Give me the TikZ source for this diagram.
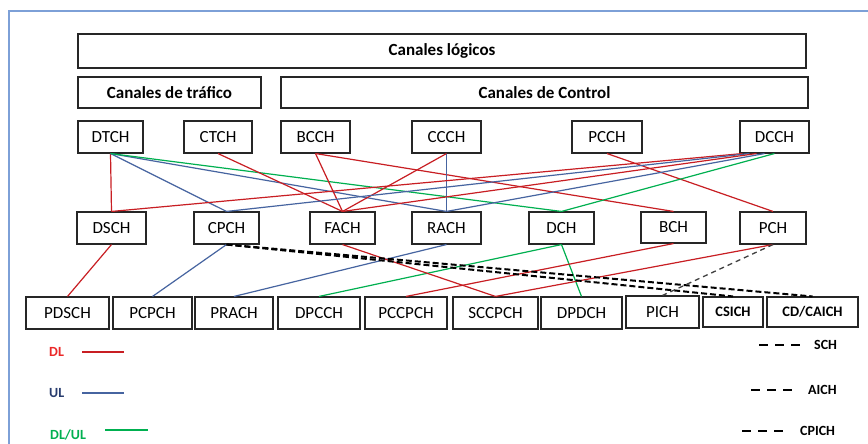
\documentclass[tikz,border=0pt]{standalone}
\usepackage{fontspec}
\setmainfont{Carlito}
\usetikzlibrary{calc}
\definecolor{dlred}{RGB}{200,30,35}
\definecolor{dltext}{RGB}{235,40,40}
\definecolor{ulblue}{RGB}{70,100,160}
\definecolor{ultext}{RGB}{40,60,110}
\definecolor{bothgreen}{RGB}{0,176,80}
\definecolor{framecol}{RGB}{125,160,215}
\begin{document}
\begin{tikzpicture}[x=1bp,y=-1bp,
  chbox/.style={draw=black!85, line width=1.1bp, inner sep=0pt,
    font=\fontsize{17bp}{20bp}\selectfont},
  headbox/.style={chbox, font=\fontsize{17bp}{20bp}\selectfont\bfseries},
  smallbox/.style={chbox, font=\fontsize{14.5bp}{17bp}\selectfont\bfseries},
  dl/.style={draw=dlred, line width=1.2bp},
  ul/.style={draw=ulblue, line width=1.2bp},
  dlul/.style={draw=bothgreen, line width=1.2bp},
  schdash/.style={draw=black, line width=2bp, dash pattern=on 6bp off 3bp},
  pichdash/.style={draw=black!75, line width=1.3bp, dash pattern=on 5bp off 4bp},
  legtext/.style={anchor=west, inner sep=0pt, font=\fontsize{14bp}{17bp}\selectfont\bfseries},
  legdash/.style={draw=black, line width=2.5bp, dash pattern=on 9bp off 7bp}]
\useasboundingbox (0,0) rectangle (868,444);
\fill[white] (0,0) rectangle (868,444);
% frame
\draw[framecol, line width=1.5bp] (868,11) -- (9,11) -- (9,444);

% headings
\node[headbox, minimum width=728bp, minimum height=34bp] (logicos) at (442,51) {Canales lógicos};
\node[headbox, minimum width=183bp, minimum height=31bp] (trafico) at (169.5,92.5) {Canales de tráfico};
\node[headbox, minimum width=527bp, minimum height=31bp] (control) at (544.5,92.5) {Canales de Control};

% logical channels
\node[chbox, minimum width=65bp, minimum height=32bp] (dtch) at (110.5,137) {DTCH};
\node[chbox, minimum width=68bp, minimum height=32bp] (ctch) at (218,137) {CTCH};
\node[chbox, minimum width=69bp, minimum height=32bp] (bcch) at (315.5,137) {BCCH};
\node[chbox, minimum width=69bp, minimum height=32bp] (ccch) at (446.5,137) {CCCH};
\node[chbox, minimum width=70bp, minimum height=32bp] (pcch) at (607,137) {PCCH};
\node[chbox, minimum width=69bp, minimum height=32bp] (dcch) at (774.5,137) {DCCH};

% transport channels
\node[chbox, minimum width=69bp, minimum height=32bp] (dsch) at (111.5,228) {DSCH};
\node[chbox, minimum width=65bp, minimum height=32bp] (cpch) at (226.5,228) {CPCH};
\node[chbox, minimum width=65bp, minimum height=32bp] (fach) at (342.5,228) {FACH};
\node[chbox, minimum width=69bp, minimum height=32bp] (rach) at (446.5,228) {RACH};
\node[chbox, minimum width=65bp, minimum height=32bp] (dch) at (561.5,228) {DCH};
\node[chbox, minimum width=65bp, minimum height=31bp] (bch) at (673.5,227.5) {BCH};
\node[chbox, minimum width=66bp, minimum height=32bp] (pch) at (773,228) {PCH};

% physical channels
\node[chbox, minimum width=83bp, minimum height=32bp] (pdsch) at (67.5,313) {PDSCH};
\node[chbox, minimum width=79bp, minimum height=32bp] (pcpch) at (152.5,313) {PCPCH};
\node[chbox, minimum width=78bp, minimum height=32bp] (prach) at (234,313) {PRACH};
\node[chbox, minimum width=82bp, minimum height=32bp] (dpcch) at (319,313) {DPCCH};
\node[chbox, minimum width=82bp, minimum height=32bp] (pccpch) at (406,313) {PCCPCH};
\node[chbox, minimum width=85bp, minimum height=32bp] (sccpch) at (495.5,313) {SCCPCH};
\node[chbox, minimum width=81bp, minimum height=32bp] (dpdch) at (581.5,313) {DPDCH};
\node[chbox, minimum width=73bp, minimum height=32bp] (pich) at (662.5,312) {PICH};
\node[smallbox, minimum width=60bp, minimum height=30bp] (csich) at (733,312) {CSICH};
\node[smallbox, minimum width=91bp, minimum height=30bp] (cdcaich) at (812.5,312) {CD/CAICH};

% logical -> transport
\draw[dl] (dtch.south) -- (dsch.north);
\draw[ul] (dtch.south) -- (cpch.north);
\draw[ul] (dtch.south) -- (rach.north);
\draw[dlul] (dtch.south) -- (dch.north);
\draw[dl] (ctch.south) -- (fach.north);
\draw[dl] (bcch.south) -- (fach.north);
\draw[dl] (bcch.south) -- (bch.north);
\draw[dl] (ccch.south) -- (fach.north);
\draw[ul] (ccch.south) -- (rach.north);
\draw[dl] (pcch.south) -- (pch.north);
\draw[dl] ([xshift=-32bp]dcch.south) -- (dsch.north);
\draw[ul] ([xshift=-25bp]dcch.south) -- (cpch.north);
\draw[dl] ([xshift=-18bp]dcch.south) -- (fach.north);
\draw[ul] ([xshift=-10bp]dcch.south) -- (rach.north);
\draw[dlul] (dcch.south) -- (dch.north);

% transport -> physical
\draw[dl] (dsch.south) -- (pdsch.north);
\draw[ul] (cpch.south) -- (pcpch.north);
\draw[ul] (rach.south) -- (prach.north);
\draw[dlul] (dch.south) -- (dpcch.north);
\draw[dlul] (dch.south) -- (dpdch.north);
\draw[dl] (fach.south) -- (sccpch.north);
\draw[dl] (bch.south) -- (pccpch.north);
\draw[dl] (pch.south) -- (sccpch.north);
\draw[schdash] (cpch.south) -- (csich.north);
\draw[schdash] (cpch.south) -- (cdcaich.north);
\draw[pichdash] (pch.south) -- (pich.north);

% legend, link direction
\node[legtext, text=dltext] (legdl) at (49,352) {DL};
\draw[dl, line width=2bp] (82,352) -- (124,352);
\node[legtext, text=ultext] (legul) at (49,393) {UL};
\draw[ul, line width=2bp] (82,393) -- (124,393);
\node[legtext, text=bothgreen] (legdlul) at (50,435) {DL/UL};
\draw[dlul, line width=2bp] (105,430) -- (148,430);

% legend, indicator channels
\draw[legdash] (759,345) -- (800,345);
\node[legtext] (legsch) at (814,345) {SCH};
\draw[legdash] (751,390) -- (792,390);
\node[legtext] (legaich) at (808,390) {AICH};
\draw[legdash] (742,431) -- (783,431);
\node[legtext] (legcpich) at (800,431) {CPICH};
\end{tikzpicture}
\end{document}
